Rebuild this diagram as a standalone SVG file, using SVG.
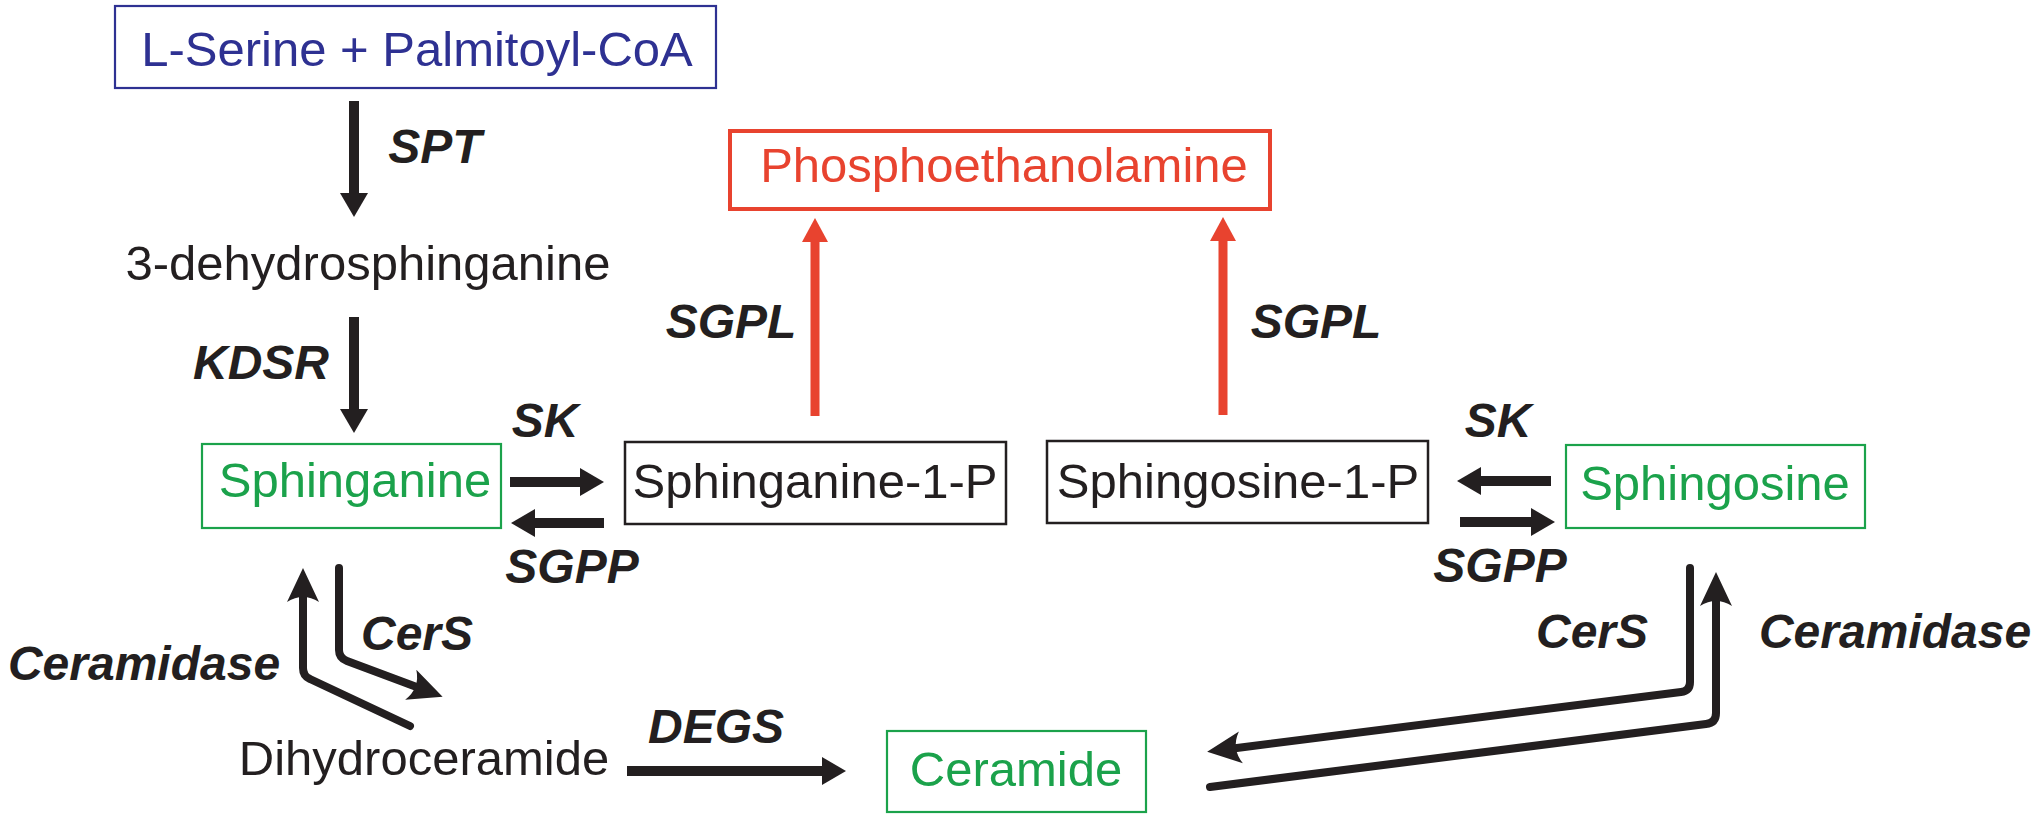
<svg xmlns="http://www.w3.org/2000/svg" width="2040" height="818" viewBox="0 0 2040 818">
<defs>
<style>
.t{font-family:"Liberation Sans",Arial,sans-serif;font-size:49px;text-anchor:middle}
.e{font-family:"Liberation Sans",Arial,sans-serif;font-size:48px;font-weight:bold;font-style:italic;fill:#231f20;text-anchor:middle}
.blue{fill:#2e3192}.green{fill:#1ba24b}.red{fill:#e8432f}.blk{fill:#231f20}
.bb{fill:#fff;stroke:#2e3192;stroke-width:2.2}
.bg{fill:#fff;stroke:#1ba24b;stroke-width:2.2}
.bk{fill:#fff;stroke:#231f20;stroke-width:2.5}
.br{fill:#fff;stroke:#e8432f;stroke-width:4}
.a{fill:none;stroke:#231f20;stroke-width:10}
.ar{fill:none;stroke:#e8432f;stroke-width:9}
.c{fill:none;stroke:#231f20;stroke-width:8;stroke-linejoin:round;stroke-linecap:round}
</style>
<marker id="h" markerUnits="userSpaceOnUse" markerWidth="30" markerHeight="30" refX="0" refY="0" orient="auto" overflow="visible">
<path d="M24,0 L0,-14 L0,14 Z" fill="#231f20"/>
</marker>
<marker id="hr" markerUnits="userSpaceOnUse" markerWidth="30" markerHeight="30" refX="0" refY="0" orient="auto" overflow="visible">
<path d="M24,0 L0,-13 L0,13 Z" fill="#e8432f"/>
</marker>
<marker id="s" markerUnits="userSpaceOnUse" markerWidth="40" markerHeight="40" refX="0" refY="0" orient="auto" overflow="visible">
<path d="M22,0 L-12,-16 Q-2,0 -12,16 Z" fill="#231f20"/>
</marker>
</defs>

<g id="connectors">
<line class="a" x1="354" y1="101" x2="354" y2="193" marker-end="url(#h)"/>
<line class="a" x1="354" y1="317" x2="354" y2="409" marker-end="url(#h)"/>
<line class="a" x1="510" y1="482" x2="580" y2="482" marker-end="url(#h)"/>
<line class="a" x1="604" y1="523" x2="535" y2="523" marker-end="url(#h)"/>
<line class="a" x1="1551" y1="481" x2="1481" y2="481" marker-end="url(#h)"/>
<line class="a" x1="1460" y1="522" x2="1531" y2="522" marker-end="url(#h)"/>
<line class="a" x1="627" y1="771" x2="822" y2="771" marker-end="url(#h)"/>
<line class="ar" x1="815" y1="416" x2="815" y2="242" marker-end="url(#hr)"/>
<line class="ar" x1="1223" y1="415" x2="1223" y2="241" marker-end="url(#hr)"/>
<path class="c" d="M339,568 V650 Q339,658 347,661 L422,689" marker-end="url(#s)"/>
<path class="c" d="M410,726 L310,679 Q303,676 303,668 V590" marker-end="url(#s)"/>
<path class="c" d="M1690,568 V682 Q1690,691 1681,692 L1229,749" marker-end="url(#s)"/>
<path class="c" d="M1210,787 L1706,724 Q1716,723 1716,713 V594" marker-end="url(#s)"/>
</g>

<g id="serine">
<rect class="bb" x="115" y="6" width="601" height="82"/>
<text class="t blue" x="417" y="66">L-Serine + Palmitoyl-CoA</text>
</g>
<g id="phosphoethanolamine">
<rect class="br" x="730" y="131" width="540" height="78"/>
<text class="t red" x="1004" y="182">Phosphoethanolamine</text>
</g>
<g id="dehydrosphinganine">
<text class="t blk" x="368" y="280">3-dehydrosphinganine</text>
</g>
<g id="sphinganine">
<rect class="bg" x="202" y="444" width="299" height="84"/>
<text class="t green" x="355" y="497">Sphinganine</text>
</g>
<g id="sphinganine1p">
<rect class="bk" x="625" y="442" width="381" height="82"/>
<text class="t blk" x="815" y="498">Sphinganine-1-P</text>
</g>
<g id="sphingosine1p">
<rect class="bk" x="1047" y="441" width="381" height="82"/>
<text class="t blk" x="1238" y="498">Sphingosine-1-P</text>
</g>
<g id="sphingosine">
<rect class="bg" x="1566" y="445" width="299" height="83"/>
<text class="t green" x="1715" y="500">Sphingosine</text>
</g>
<g id="dihydroceramide">
<text class="t blk" x="424" y="775">Dihydroceramide</text>
</g>
<g id="ceramide">
<rect class="bg" x="887" y="731" width="259" height="81"/>
<text class="t green" x="1016" y="786">Ceramide</text>
</g>

<g id="labels">
<text class="e" x="435" y="163">SPT</text>
<text class="e" x="261" y="379">KDSR</text>
<text class="e" x="545" y="437">SK</text>
<text class="e" x="572" y="583">SGPP</text>
<text class="e" x="731" y="338">SGPL</text>
<text class="e" x="1316" y="338">SGPL</text>
<text class="e" x="1498" y="437">SK</text>
<text class="e" x="1500" y="582">SGPP</text>
<text class="e" x="417" y="650">CerS</text>
<text class="e" x="144" y="680">Ceramidase</text>
<text class="e" x="716" y="743">DEGS</text>
<text class="e" x="1592" y="648">CerS</text>
<text class="e" x="1895" y="648">Ceramidase</text>
</g>
</svg>
